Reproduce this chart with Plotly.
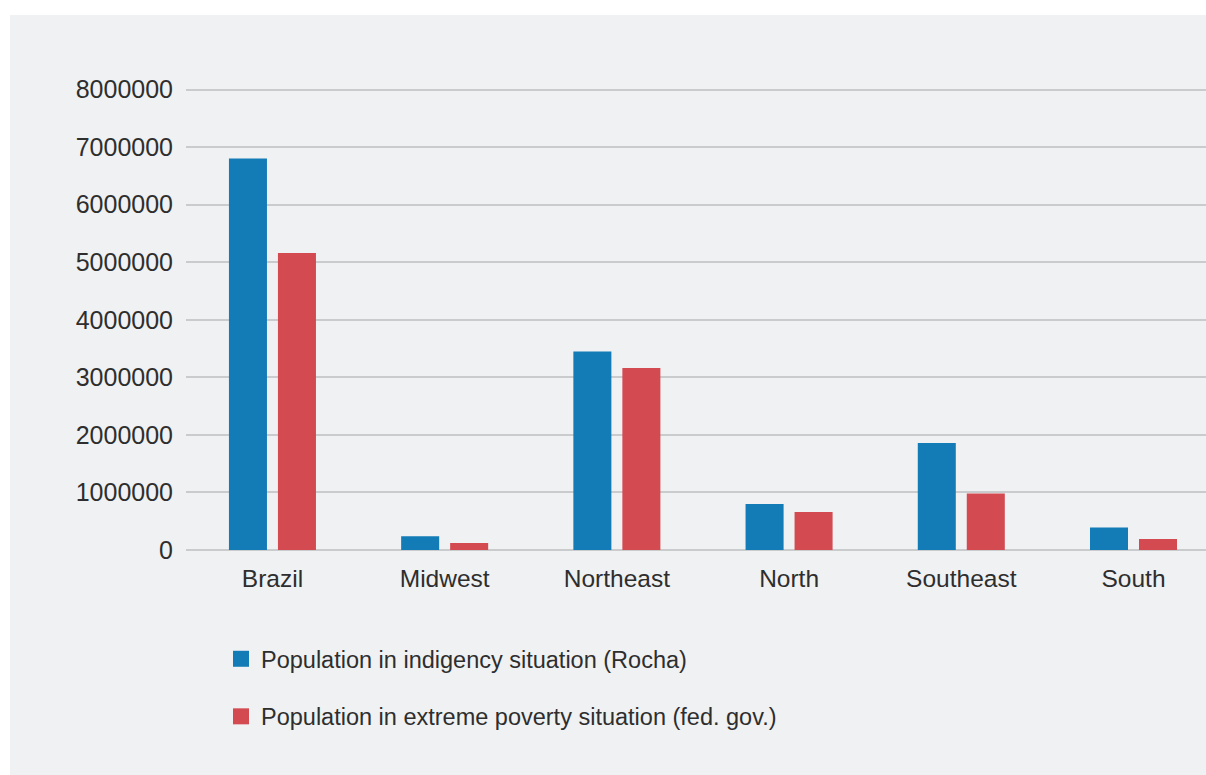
import plotly.graph_objects as go

# Regions and population counts
regions = ["Brazil", "Midwest", "Northeast", "North", "Southeast", "South"]
indigency_rocha = [6800000, 240000, 3450000, 800000, 1860000, 390000]
extreme_poverty_fedgov = [5160000, 120000, 3160000, 660000, 980000, 190000]
y_ticks = [0, 1000000, 2000000, 3000000, 4000000, 5000000, 6000000, 7000000, 8000000]

series_names = [
    "Population in indigency situation (Rocha)",
    "Population in extreme poverty situation (fed. gov.)",
]
blue = "#137bb5"
red = "#d34a51"
panel = "#f0f1f3"
grid = "#cacbcd"
text_col = "#2e2e2e"
font_family = "Liberation Sans Narrow, Arial Narrow, Liberation Sans, Arial, sans-serif"

W, H = 1206, 775
L, R, T, B = 186, 0, 78, 225
pw = W - L - R
ph = H - T - B
y_top = 8200000

fig = go.Figure()
fig.add_bar(x=regions, y=indigency_rocha, marker=dict(color=blue, line=dict(width=0)),
            name=series_names[0], showlegend=False)
fig.add_bar(x=regions, y=extreme_poverty_fedgov, marker=dict(color=red, line=dict(width=0)),
            name=series_names[1], showlegend=False)

# Legend entries with larger square swatches
for nm, col, grp in [(series_names[0], blue, "a"), (series_names[1], red, "b")]:
    fig.add_scatter(x=[None], y=[None], mode="markers", name=nm, legendgroup=grp,
                    marker=dict(symbol="square", size=16, color=col))

# Grey panel behind the chart
fig.add_shape(type="rect", xref="paper", yref="paper",
              x0=(10 - L) / pw, x1=(W - L + 5) / pw,
              y0=-(H + 5 - T - ph) / ph, y1=(ph + T - 15) / ph,
              fillcolor=panel, line=dict(width=0), layer="below")

fig.update_layout(
    width=W, height=H,
    margin=dict(l=L, r=R, t=T, b=B, pad=0),
    paper_bgcolor="white",
    plot_bgcolor="rgba(0,0,0,0)",
    barmode="group",
    bargap=0.431,
    bargroupgap=0.224,
    font=dict(family=font_family, size=25, color=text_col),
    showlegend=True,
    legend=dict(
        x=(221 - L) / pw, xanchor="left",
        y=-(637 - T - ph) / ph, yanchor="top",
        bgcolor="rgba(0,0,0,0)",
        font=dict(size=23.5, color=text_col),
        traceorder="grouped",
        tracegroupgap=24,
    ),
    xaxis=dict(
        type="category",
        range=[-0.502, 5.421],
        showgrid=False, showline=False, zeroline=False,
        ticks="outside", ticklen=7, tickcolor="rgba(0,0,0,0)",
        tickfont=dict(size=24.5),
    ),
    yaxis=dict(
        range=[0, y_top],
        tickvals=y_ticks,
        ticktext=[str(v) for v in y_ticks],
        showgrid=True, gridcolor=grid, gridwidth=2,
        zeroline=True, zerolinecolor=grid, zerolinewidth=2,
        showline=False,
        ticks="outside", ticklen=7, tickcolor="rgba(0,0,0,0)",
        tickfont=dict(size=25),
    ),
)

fig.write_html("out.html")
